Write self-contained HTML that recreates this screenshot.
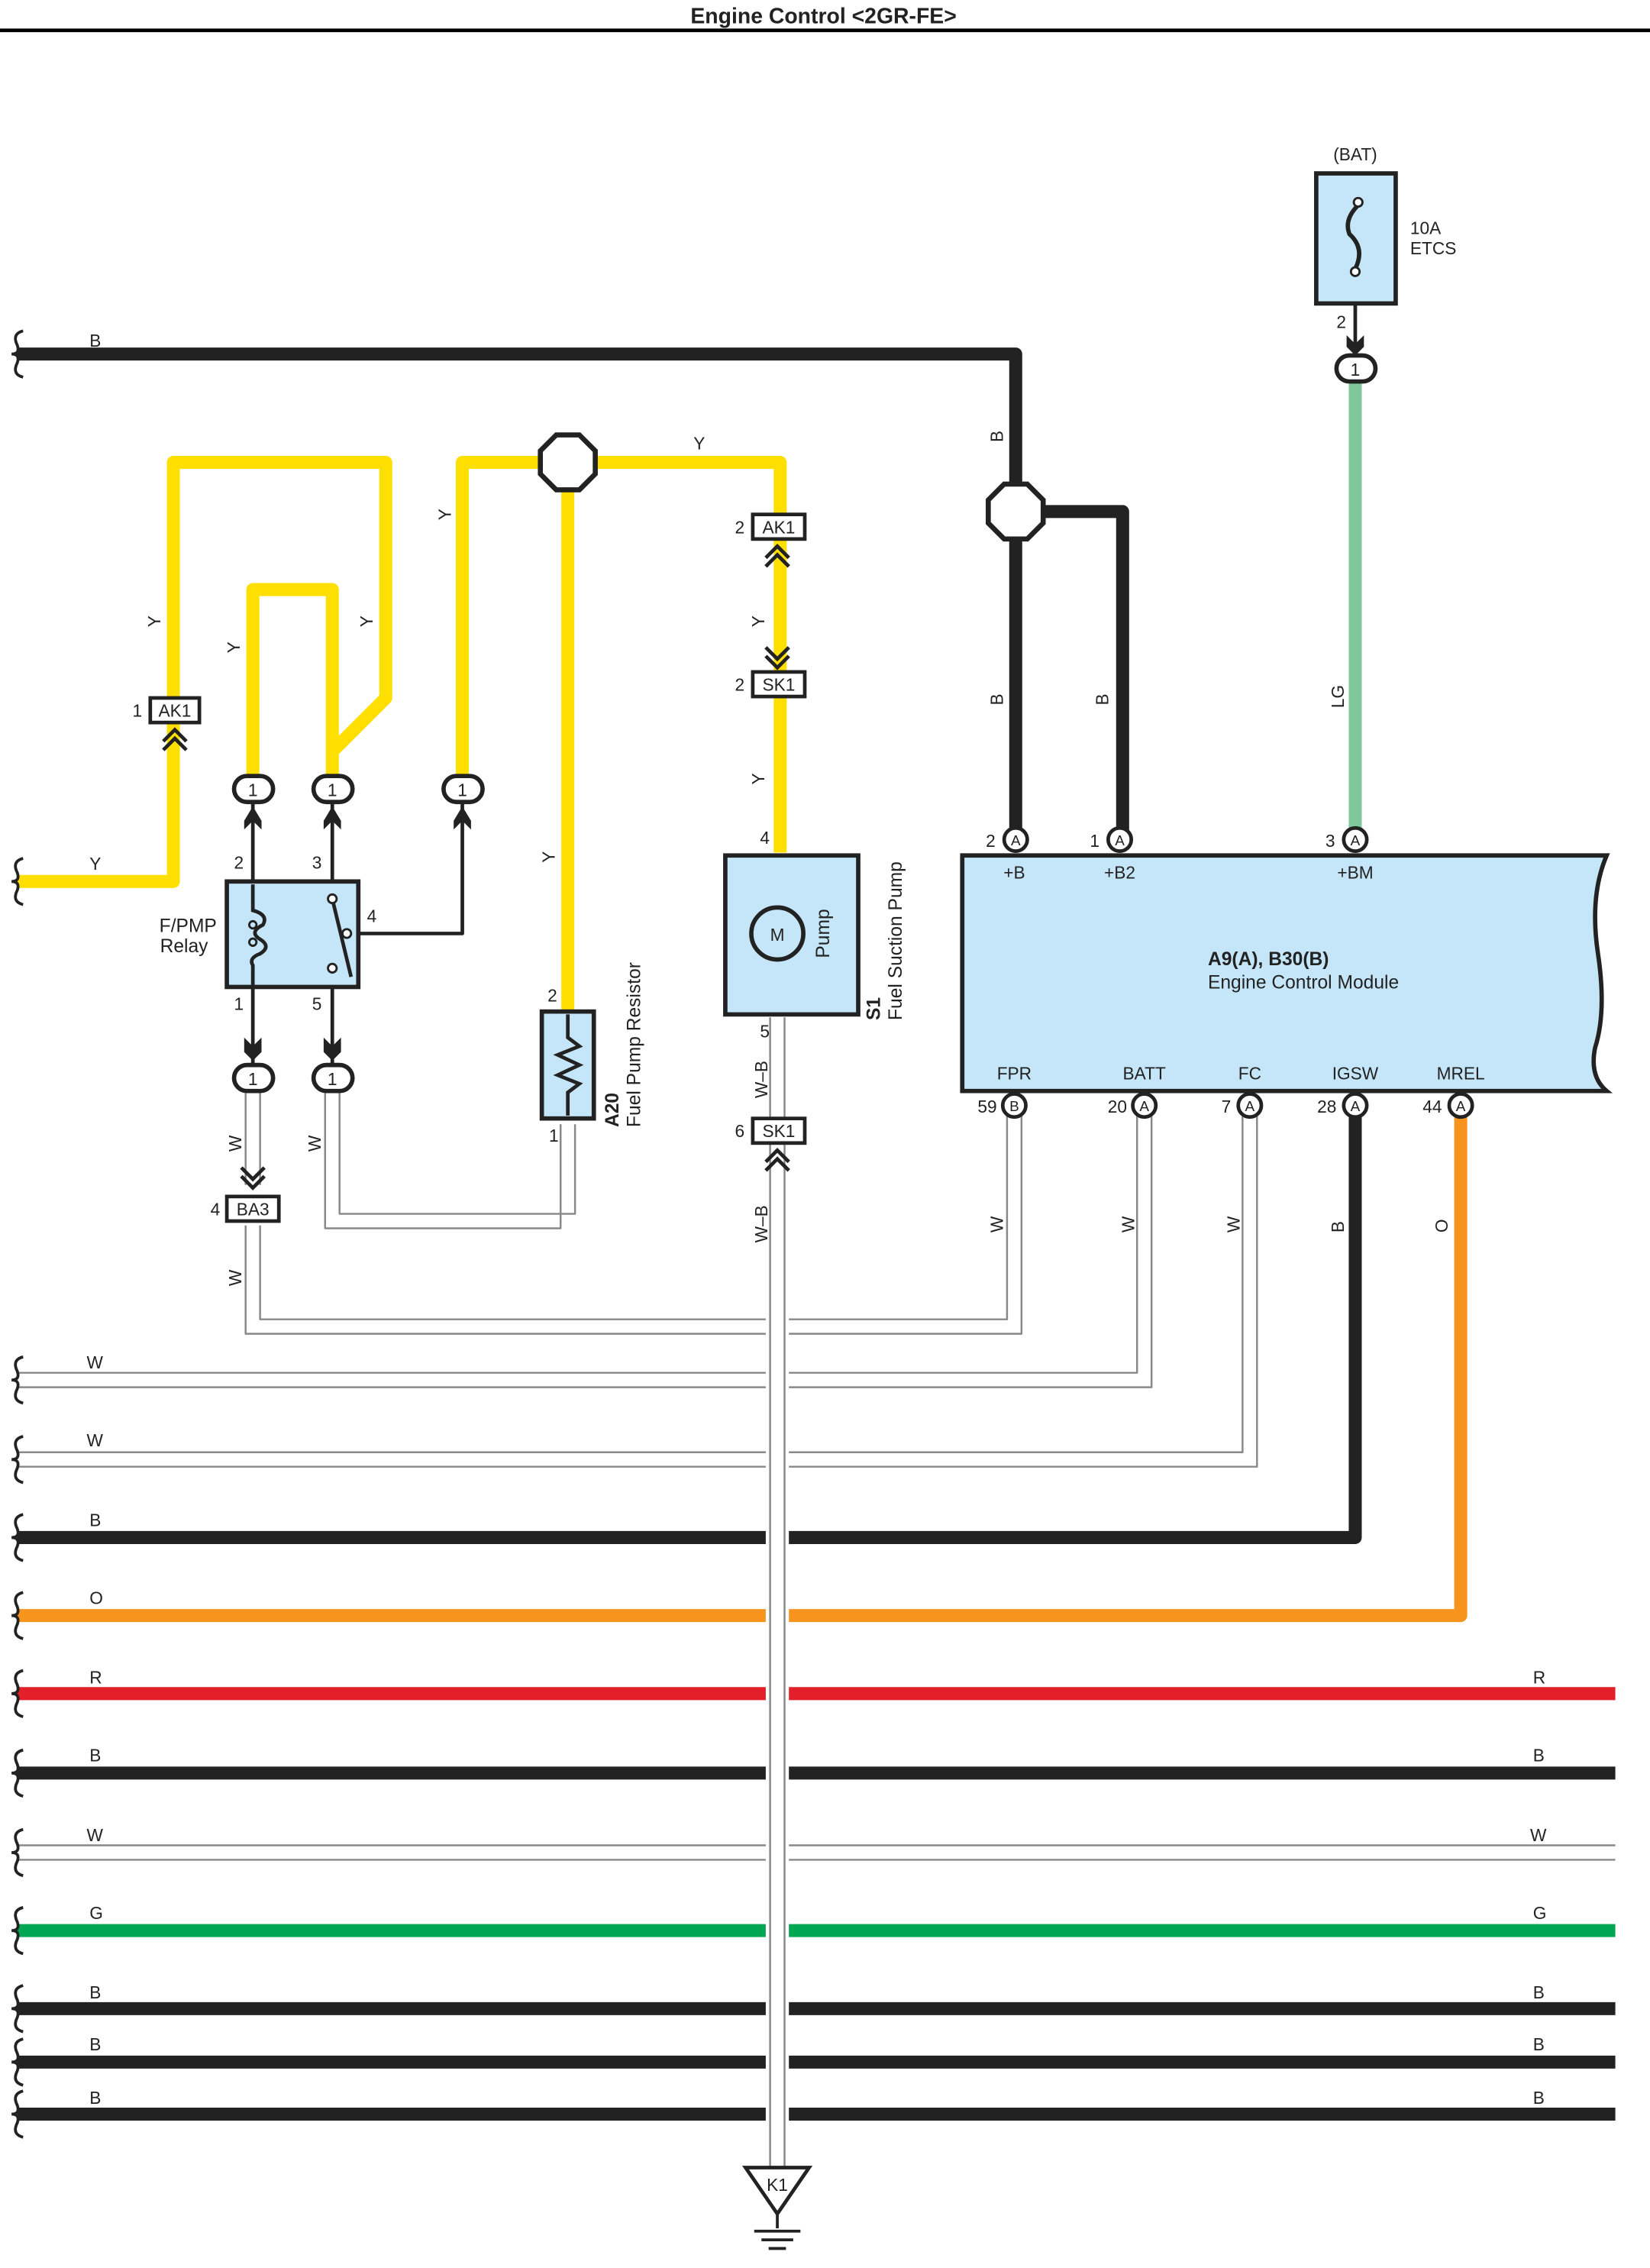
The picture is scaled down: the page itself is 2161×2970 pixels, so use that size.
<!DOCTYPE html>
<html><head><meta charset="utf-8"><style>
html,body{margin:0;padding:0;background:#fff}
svg{display:block}
text{font-family:"Liberation Sans",sans-serif;fill:#222}
</style></head><body>
<svg width="2161" height="2970" viewBox="0 0 1142 1569.5" preserveAspectRatio="none" xmlns="http://www.w3.org/2000/svg">
<defs>
<g id="brace"><path d="M6,-16 Q-2,-14 2,-6 Q4,0 -2,0 Q4,0 2,6 Q-2,14 6,16" fill="none" stroke="#222" stroke-width="2"/></g>
</defs>
<rect width="1142" height="1570" fill="#fff"/>
<text x="570" y="16" font-size="15" font-weight="bold" text-anchor="middle" fill="#000">Engine Control &lt;2GR-FE&gt;</text>
<line x1="0" y1="21" x2="1142" y2="21" stroke="#000" stroke-width="2.5"/>

<g fill="none" stroke-linejoin="round">
<path d="M12,245 H703 V581" stroke="#222" stroke-width="9"/>
<path d="M703,354 H777 V581" stroke="#222" stroke-width="9"/>
<path d="M938,262 V578" stroke="#7ec89b" stroke-width="9"/>
<path d="M12,610 H120 V320 H267 V483 L230,520" stroke="#ffdf00" stroke-width="9"/>
<path d="M175,540 V408 H230 V540" stroke="#ffdf00" stroke-width="9"/>
<path d="M320,540 V320 H540 V590" stroke="#ffdf00" stroke-width="9"/>
<path d="M393,320 V700" stroke="#ffdf00" stroke-width="9"/>
<path d="M12,1064 H938 V770" stroke="#222" stroke-width="9"/>
<path d="M12,1118 H1011 V770" stroke="#f7941d" stroke-width="9"/>
<path d="M12,1172 H1118" stroke="#e3202a" stroke-width="9"/>
<path d="M12,1227 H1118" stroke="#222" stroke-width="9"/>
<path d="M12,1336 H1118" stroke="#00a651" stroke-width="9"/>
<path d="M12,1390 H1118" stroke="#222" stroke-width="9"/>
<path d="M12,1427 H1118" stroke="#222" stroke-width="9"/>
<path d="M12,1463 H1118" stroke="#222" stroke-width="9"/>
<g stroke="#888" stroke-width="1.3">
<path d="M12,1277 H1118 M12,1287 H1118"/>
<path d="M12,950 H787 V770 M12,960 H797 V770"/>
<path d="M12,1005 H860 V770 M12,1015 H870 V770"/>
<path d="M697,770 V913 H180 V848 M707,770 V923 H170 V848"/>
<path d="M170,755 V820 M180,755 V820"/>
<path d="M225,755 V850 H388 V778 M235,755 V840 H398 V778"/>
</g>
<rect x="530" y="792" width="16" height="708" fill="#fff" stroke="none"/>
<g stroke="#888" stroke-width="1.3">
<path d="M533,790 V1500 M543,790 V1500"/>
<path d="M533,704 V775 M543,704 V775"/>
</g>
<g stroke="#222" stroke-width="2.5">
<path d="M175,556 V736"/><path d="M230,556 V612"/>
<path d="M230,680 V736"/><path d="M248,646 H320 V556"/>
<path d="M938,205 V248"/>
<path d="M538,592 V702"/>
</g>
</g>

<g>
<use href="#brace" x="10" y="245"/><use href="#brace" x="10" y="610"/>
<use href="#brace" x="10" y="955"/><use href="#brace" x="10" y="1010"/>
<use href="#brace" x="10" y="1064"/><use href="#brace" x="10" y="1118"/>
<use href="#brace" x="10" y="1172"/><use href="#brace" x="10" y="1227"/>
<use href="#brace" x="10" y="1282"/><use href="#brace" x="10" y="1336"/>
<use href="#brace" x="10" y="1390"/><use href="#brace" x="10" y="1427"/>
<use href="#brace" x="10" y="1463"/>
</g>

<polygon points="385,301 401,301 412,312 412,328 401,339 385,339 374,328 374,312" fill="#fff" stroke="#222" stroke-width="3.5"/>
<polygon points="695,335 711,335 722,346 722,362 711,373 695,373 684,362 684,346" fill="#fff" stroke="#222" stroke-width="3.5"/>

<rect x="911" y="120" width="55" height="90" fill="#c5e6f8" stroke="#222" stroke-width="3"/>
<path d="M940,142 Q930,152 934,162 Q945,172 938,186" fill="none" stroke="#222" stroke-width="3"/>
<circle cx="940" cy="140" r="3" fill="#fff" stroke="#222" stroke-width="1.5"/>
<circle cx="938" cy="188" r="3" fill="#fff" stroke="#222" stroke-width="1.5"/>
<text x="938" y="111" font-size="12" text-anchor="middle">(BAT)</text>
<text x="976" y="162" font-size="12">10A</text>
<text x="976" y="176" font-size="12">ETCS</text>
<text x="925" y="227" font-size="12">2</text>
<path d="M932,232 L938,238 L944,232 L944,240 L938,246 L932,240Z" fill="#222"/>

<g fill="#fff" stroke="#222" stroke-width="3">
<rect x="925" y="246" width="27" height="18" rx="9"/>
<rect x="162" y="537" width="27" height="18" rx="9"/>
<rect x="217" y="537" width="27" height="18" rx="9"/>
<rect x="307" y="537" width="27" height="18" rx="9"/>
<rect x="162" y="737" width="27" height="18" rx="9"/>
<rect x="217" y="737" width="27" height="18" rx="9"/>
</g>
<g font-size="12" text-anchor="middle">
<text x="938" y="260">1</text><text x="175" y="551">1</text><text x="230" y="551">1</text>
<text x="320" y="551">1</text><text x="175" y="751">1</text><text x="230" y="751">1</text>
</g>
<g fill="#222">
<path d="M169,568 L175,558 L181,568 L181,574 L175,568 L169,574Z"/>
<path d="M224,568 L230,558 L236,568 L236,574 L230,568 L224,574Z"/>
<path d="M314,568 L320,558 L326,568 L326,574 L320,568 L314,574Z"/>
<path d="M169,718 L175,724 L181,718 L181,728 L175,734 L169,728Z"/>
<path d="M224,718 L230,724 L236,718 L236,728 L230,734 L224,728Z"/>
</g>
<g fill="none" stroke="#222" stroke-width="2.5">
<path d="M167,808 L175,816 L183,808 M167,814 L175,822 L183,814"/>
<path d="M113,513 L121,505 L129,513 M113,519 L121,511 L129,519"/>
<path d="M530,386 L538,378 L546,386 M530,392 L538,384 L546,392"/>
<path d="M530,448 L538,456 L546,448 M530,454 L538,462 L546,454"/>
<path d="M530,804 L538,796 L546,804 M530,810 L538,802 L546,810"/>
</g>

<g fill="#fff" stroke="#222" stroke-width="2.5">
<rect x="104" y="483" width="34" height="17"/>
<rect x="521" y="356" width="36" height="17"/>
<rect x="521" y="465" width="36" height="17"/>
<rect x="521" y="774" width="36" height="17"/>
<rect x="157" y="828" width="36" height="17"/>
</g>
<g font-size="12" text-anchor="middle">
<text x="121" y="496">AK1</text><text x="539" y="369">AK1</text>
<text x="539" y="478">SK1</text><text x="539" y="787">SK1</text>
<text x="175" y="841">BA3</text>
<text x="95" y="496">1</text><text x="512" y="369">2</text><text x="512" y="478">2</text>
<text x="512" y="787">6</text><text x="149" y="841">4</text>
</g>

<rect x="157" y="610" width="91" height="73" fill="#c5e6f8" stroke="#222" stroke-width="3"/>
<path d="M175,612 V630 Q186,633 182,640 Q172,645 180,650 Q188,655 180,660 Q172,663 175,668 V682" fill="none" stroke="#222" stroke-width="2.5"/>
<circle cx="175" cy="640" r="2.5" fill="none" stroke="#222" stroke-width="1.5"/>
<circle cx="175" cy="652" r="2.5" fill="none" stroke="#222" stroke-width="1.5"/>
<line x1="230" y1="622" x2="243" y2="676" stroke="#222" stroke-width="2.5"/>
<circle cx="230" cy="622" r="3" fill="#fff" stroke="#222" stroke-width="1.5"/>
<circle cx="240" cy="646" r="3" fill="#fff" stroke="#222" stroke-width="1.5"/>
<circle cx="230" cy="670" r="3" fill="#fff" stroke="#222" stroke-width="1.5"/>
<text x="150" y="645" font-size="13" text-anchor="end">F/PMP</text>
<text x="144" y="659" font-size="13" text-anchor="end">Relay</text>
<g font-size="12"><text x="162" y="601">2</text><text x="216" y="601">3</text><text x="254" y="638">4</text><text x="162" y="699">1</text><text x="216" y="699">5</text></g>

<rect x="375" y="700" width="36" height="74" fill="#c5e6f8" stroke="#222" stroke-width="3"/>
<path d="M393,702 V718 L401,724 L386,730 L401,737 L386,744 L401,750 L393,756 V772" fill="none" stroke="#222" stroke-width="2.5"/>
<text x="379" y="693" font-size="12">2</text><text x="380" y="790" font-size="12">1</text>
<text transform="translate(428,780) rotate(-90)" font-size="13" font-weight="bold">A20</text>
<text transform="translate(443,780) rotate(-90)" font-size="13">Fuel Pump Resistor</text>

<rect x="502" y="592" width="92" height="110" fill="#c5e6f8" stroke="#222" stroke-width="3"/>
<circle cx="538" cy="646" r="18" fill="#c5e6f8" stroke="#222" stroke-width="3"/>
<text x="538" y="651" font-size="12" text-anchor="middle">M</text>
<text transform="translate(574,663) rotate(-90)" font-size="13">Pump</text>
<text transform="translate(609,706) rotate(-90)" font-size="13" font-weight="bold">S1</text>
<text transform="translate(624,706) rotate(-90)" font-size="13">Fuel Suction Pump</text>
<text x="526" y="584" font-size="12">4</text><text x="526" y="718" font-size="12">5</text>

<polygon points="516,1500 560,1500 538,1532" fill="#fff" stroke="#222" stroke-width="2.5"/>
<text x="538" y="1516" font-size="12" text-anchor="middle">K1</text>
<path d="M538,1532 V1542 M522,1544 H554 M527,1550 H549 M532,1556 H544" stroke="#222" stroke-width="2"/>

<path d="M666,592 H1112 Q1100,620 1106,660 Q1112,700 1104,725 Q1100,745 1112,755 H666Z" fill="#c5e6f8" stroke="#222" stroke-width="3"/>
<text x="836" y="668" font-size="13" font-weight="bold">A9(A), B30(B)</text>
<text x="836" y="684" font-size="13">Engine Control Module</text>
<g font-size="12" text-anchor="middle">
<text x="702" y="608">+B</text><text x="775" y="608">+B2</text><text x="938" y="608">+BM</text>
<text x="702" y="747">FPR</text><text x="792" y="747">BATT</text><text x="865" y="747">FC</text><text x="938" y="747">IGSW</text><text x="1011" y="747">MREL</text>
</g>
<g fill="#fff" stroke="#222" stroke-width="2.5">
<circle cx="703" cy="581" r="8"/><circle cx="775" cy="581" r="8"/><circle cx="938" cy="581" r="8"/>
<circle cx="702" cy="765" r="8"/><circle cx="792" cy="765" r="8"/><circle cx="865" cy="765" r="8"/><circle cx="938" cy="765" r="8"/><circle cx="1011" cy="765" r="8"/>
</g>
<g font-size="10" text-anchor="middle">
<text x="703" y="585">A</text><text x="775" y="585">A</text><text x="938" y="585">A</text>
<text x="702" y="769">B</text><text x="792" y="769">A</text><text x="865" y="769">A</text><text x="938" y="769">A</text><text x="1011" y="769">A</text>
</g>
<g font-size="12" text-anchor="end">
<text x="689" y="586">2</text><text x="761" y="586">1</text><text x="924" y="586">3</text>
<text x="690" y="770">59</text><text x="780" y="770">20</text><text x="852" y="770">7</text><text x="925" y="770">28</text><text x="998" y="770">44</text>
</g>

<g font-size="12">
<text x="62" y="240">B</text><text x="62" y="602">Y</text><text x="480" y="311">Y</text>
<text x="60" y="947">W</text><text x="60" y="1001">W</text><text x="62" y="1056">B</text><text x="62" y="1110">O</text>
<text x="62" y="1165">R</text><text x="62" y="1219">B</text><text x="60" y="1274">W</text><text x="62" y="1328">G</text>
<text x="62" y="1383">B</text><text x="62" y="1419">B</text><text x="62" y="1456">B</text>
<text x="1061" y="1165">R</text><text x="1061" y="1219">B</text><text x="1059" y="1274">W</text><text x="1061" y="1328">G</text>
<text x="1061" y="1383">B</text><text x="1061" y="1419">B</text><text x="1061" y="1456">B</text>
</g>
<g font-size="12">
<text transform="translate(111,434) rotate(-90)">Y</text>
<text transform="translate(166,452) rotate(-90)">Y</text>
<text transform="translate(258,434) rotate(-90)">Y</text>
<text transform="translate(312,360) rotate(-90)">Y</text>
<text transform="translate(384,597) rotate(-90)">Y</text>
<text transform="translate(529,434) rotate(-90)">Y</text>
<text transform="translate(529,543) rotate(-90)">Y</text>
<text transform="translate(694,306) rotate(-90)">B</text>
<text transform="translate(694,488) rotate(-90)">B</text>
<text transform="translate(767,488) rotate(-90)">B</text>
<text transform="translate(930,490) rotate(-90)">LG</text>
<text transform="translate(167,797) rotate(-90)">W</text>
<text transform="translate(222,797) rotate(-90)">W</text>
<text transform="translate(167,890) rotate(-90)">W</text>
<text transform="translate(531,760) rotate(-90)">W–B</text>
<text transform="translate(531,860) rotate(-90)">W–B</text>
<text transform="translate(694,853) rotate(-90)">W</text>
<text transform="translate(785,853) rotate(-90)">W</text>
<text transform="translate(858,853) rotate(-90)">W</text>
<text transform="translate(930,853) rotate(-90)">B</text>
<text transform="translate(1002,853) rotate(-90)">O</text>
</g>
</svg>
</body></html>
